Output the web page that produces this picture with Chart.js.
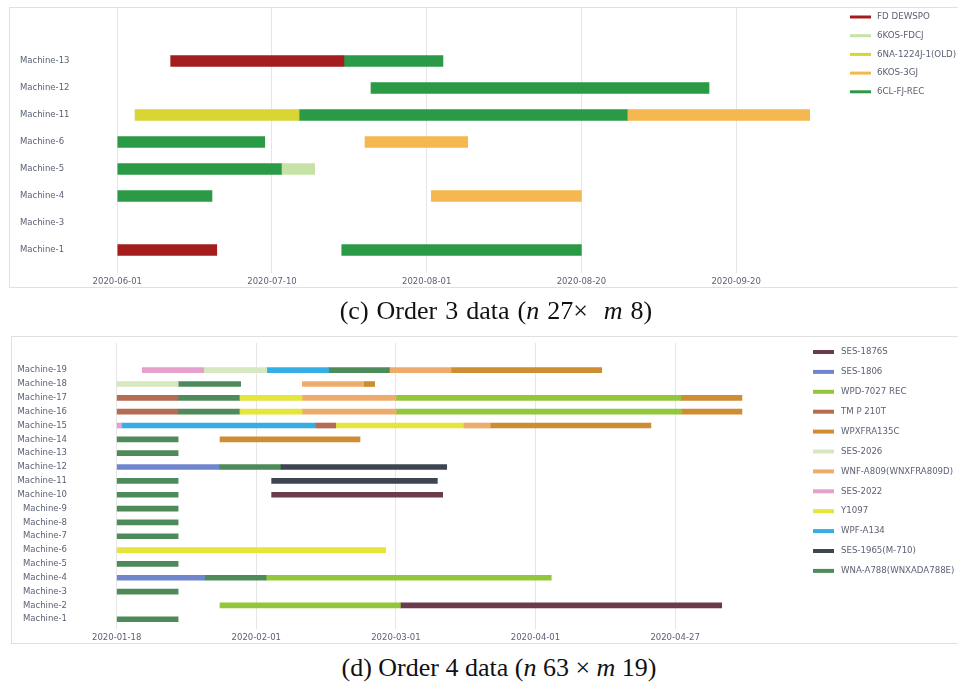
<!DOCTYPE html>
<html>
<head>
<meta charset="utf-8">
<script src="https://cdn.jsdelivr.net/npm/chart.js@4.4.1/dist/chart.umd.min.js"></script>
<style>
  html, body { margin: 0; padding: 0; background: #fff; width: 958px; height: 684px; overflow: hidden; position: relative; }
  .panel { position: absolute; border: 1px solid #e0e0e0; border-right: none; box-sizing: border-box; }
  canvas { position: absolute; left: 0; }
  .cap { position: absolute; width: 958px; text-align: center; white-space: nowrap;
         font-family: "Liberation Serif", "Times New Roman", serif; font-size: 26px; line-height: 30px; color: #111; }
</style>
</head>
<body>
<div class="panel" style="left:9px; top:7px; width:960px; height:281px;"></div>
<div class="panel" style="left:11px; top:336px; width:960px; height:308px;"></div>
<canvas id="order3" width="958" height="300" style="top:0;"></canvas>
<canvas id="order4" width="958" height="320" style="top:330px;"></canvas>
<div class="cap" style="top:296px; left:17px; word-spacing:1.5px;">(c) Order 3 data (<i>n</i> 27×&nbsp; <i>m</i> 8)</div>
<div class="cap" style="top:653px; left:20px;">(d) Order 4 data (<i>n</i> 63 × <i>m</i> 19)</div>

<script>
// ---------- Order 3 ----------
const machines3 = ['Machine-1', 'Machine-3', 'Machine-4', 'Machine-5', 'Machine-6', 'Machine-11', 'Machine-12', 'Machine-13'];
const dateTicks3 = ['2020-06-01', '2020-07-10', '2020-08-01', '2020-08-20', '2020-09-20'];
const products3 = ['FD DEWSPO', '6KOS-FDCJ', '6NA-1224J-1(OLD)', '6KOS-3GJ', '6CL-FJ-REC'];
// jobs per product: [machine, start, end], times measured in date-tick intervals
const jobsFdDewspo = [['Machine-13', 0.345, 1.465], ['Machine-1', 0, 0.643]];
const jobs6kosFdcj = [['Machine-5', 1.065, 1.276]];
const jobs6na1224j = [['Machine-11', 0.115, 1.175]];
const jobs6kos3gj = [['Machine-11', 3.30, 4.476], ['Machine-6', 1.601, 2.265], ['Machine-4', 2.03, 3]];
const jobs6clFjRec = [['Machine-13', 1.465, 2.105], ['Machine-12', 1.64, 3.825], ['Machine-11', 1.175, 3.30],
                      ['Machine-6', 0, 0.953], ['Machine-5', 0, 1.065], ['Machine-4', 0, 0.612], ['Machine-1', 1.451, 3]];
const jobs3 = [jobsFdDewspo, jobs6kosFdcj, jobs6na1224j, jobs6kos3gj, jobs6clFjRec];
const colors3 = ['#a31d1d', '#c6e2a6', '#d7d434', '#f5b74f', '#2b9a47'];

// ---------- Order 4 ----------
const machines4 = ['Machine-1', 'Machine-2', 'Machine-3', 'Machine-4', 'Machine-5', 'Machine-6', 'Machine-7', 'Machine-8',
                   'Machine-9', 'Machine-10', 'Machine-11', 'Machine-12', 'Machine-13', 'Machine-14', 'Machine-15',
                   'Machine-16', 'Machine-17', 'Machine-18', 'Machine-19'];
const dateTicks4 = ['2020-01-18', '2020-02-01', '2020-03-01', '2020-04-01', '2020-04-27'];
const products4 = ['SES-1876S', 'SES-1806', 'WPD-7027 REC', 'TM P 210T', 'WPXFRA135C', 'SES-2026',
                   'WNF-A809(WNXFRA809D)', 'SES-2022', 'Y1097', 'WPF-A134', 'SES-1965(M-710)', 'WNA-A788(WNXADA788E)'];
const jobsSes1876s = [['Machine-10', 1.110, 2.335], ['Machine-2', 2.037, 4.334]];
const jobsSes1806 = [['Machine-12', 0, 0.733], ['Machine-4', 0, 0.630]];
const jobsWpd7027 = [['Machine-17', 2.006, 4.042], ['Machine-16', 2.006, 4.047], ['Machine-4', 1.075, 3.113], ['Machine-2', 0.740, 2.037]];
const jobsTmp210t = [['Machine-17', 0, 0.439], ['Machine-16', 0, 0.439], ['Machine-15', 1.428, 1.569]];
const jobsWpxfra135c = [['Machine-19', 2.40, 3.474], ['Machine-18', 1.774, 1.848], ['Machine-17', 4.042, 4.479],
                        ['Machine-16', 4.047, 4.479], ['Machine-15', 2.681, 3.827], ['Machine-14', 0.740, 1.743]];
const jobsSes2026 = [['Machine-19', 0.628, 1.075], ['Machine-18', 0, 0.441]];
const jobsWnfA809 = [['Machine-19', 1.958, 2.40], ['Machine-18', 1.330, 1.774], ['Machine-17', 1.332, 2.006],
                     ['Machine-16', 1.332, 2.006], ['Machine-15', 2.488, 2.681]];
const jobsSes2022 = [['Machine-19', 0.183, 0.628], ['Machine-15', 0, 0.036]];
const jobsY1097 = [['Machine-17', 0.883, 1.332], ['Machine-16', 0.883, 1.332], ['Machine-15', 1.569, 2.488], ['Machine-6', 0, 1.927]];
const jobsWpfA134 = [['Machine-19', 1.075, 1.519], ['Machine-15', 0.036, 1.428]];
const jobsSes1965 = [['Machine-12', 1.177, 2.364], ['Machine-11', 1.110, 2.297]];
const jobsWnaA788 = [['Machine-19', 1.519, 1.958], ['Machine-18', 0.441, 0.888], ['Machine-17', 0.439, 0.883],
                     ['Machine-16', 0.439, 0.883], ['Machine-14', 0, 0.44], ['Machine-13', 0, 0.44],
                     ['Machine-12', 0.733, 1.177], ['Machine-11', 0, 0.44], ['Machine-10', 0, 0.44],
                     ['Machine-9', 0, 0.44], ['Machine-8', 0, 0.44], ['Machine-7', 0, 0.44], ['Machine-5', 0, 0.44],
                     ['Machine-4', 0.630, 1.075], ['Machine-3', 0, 0.44], ['Machine-1', 0, 0.44]];
const jobs4 = [jobsSes1876s, jobsSes1806, jobsWpd7027, jobsTmp210t, jobsWpxfra135c, jobsSes2026,
               jobsWnfA809, jobsSes2022, jobsY1097, jobsWpfA134, jobsSes1965, jobsWnaA788];
const colors4 = ['#6b3a4c', '#6f86cf', '#93c73b', '#b66b53', '#cf8d33', '#d6e8c0',
                 '#eeac6c', '#e6a0cc', '#e5e53a', '#35aee6', '#3d4551', '#4e8b5a'];

const FONT = '"DejaVu Sans", Verdana, sans-serif';
const TEXT = '#5c6275';

// Legend drawn as short coloured strokes next to each product name
const lineLegend = {
  id: 'lineLegend',
  afterDraw(chart, args, o) {
    const ctx = chart.ctx;
    ctx.save();
    ctx.font = o.size + 'px ' + FONT;
    ctx.textBaseline = 'middle';
    ctx.textAlign = 'left';
    chart.data.datasets.forEach((ds, i) => {
      const y = o.y + i * o.step;
      ctx.strokeStyle = ds.backgroundColor;
      ctx.lineWidth = o.lineWidth;
      ctx.beginPath();
      ctx.moveTo(o.x, y);
      ctx.lineTo(o.x + o.len, y);
      ctx.stroke();
      ctx.fillStyle = TEXT;
      ctx.fillText(ds.label, o.x + o.len + o.gap, y);
    });
    ctx.restore();
  }
};

function gantt(canvasId, s) {
  const datasets = s.products.map((name, i) => ({
    label: name,
    data: s.jobs[i].map(([m, a, b]) => ({ x: [a, b], y: s.machines.indexOf(m) })),
    backgroundColor: s.colors[i],
    borderWidth: 0,
    barThickness: s.bar,
    grouped: false
  }));
  return new Chart(document.getElementById(canvasId), {
    type: 'bar',
    data: { datasets },
    plugins: [lineLegend],
    options: {
      indexAxis: 'y',
      responsive: false,
      animation: false,
      devicePixelRatio: 1,
      layout: { padding: s.pad },
      plugins: { legend: { display: false }, tooltip: { enabled: false }, lineLegend: s.legend },
      scales: {
        x: {
          type: 'linear', bounds: 'data', min: s.xMin, max: s.xMax, offset: false,
          afterBuildTicks: sc => { sc.ticks = s.ticks.map((_, i) => ({ value: i })); },
          afterFit: sc => { sc.height = s.xAxisH; },
          ticks: { callback: v => s.ticks[v], color: TEXT, font: { family: FONT, size: 8.5 }, padding: 4,
                   maxRotation: 0, autoSkip: false },
          grid: { color: '#e6e6e6', drawTicks: false, offset: false },
          border: { display: false }
        },
        y: {
          type: 'linear', bounds: 'data', min: s.yMin, max: s.yMax, offset: false,
          afterBuildTicks: sc => { sc.ticks = s.machines.map((_, i) => ({ value: i })); },
          afterFit: sc => { sc.width = s.yAxisW; },
          ticks: { callback: v => s.machines[v], color: TEXT, font: { family: FONT, size: 8.5 },
                   crossAlign: s.crossAlign, padding: 0, autoSkip: false },
          // hidden grid; the tick length only sets the gap between labels and plot
          grid: { display: false, drawTicks: true, tickLength: s.labelGap, offset: false },
          border: { display: false }
        }
      }
    }
  });
}

gantt('order3', {
  machines: machines3, ticks: dateTicks3, products: products3, jobs: jobs3, colors: colors3,
  bar: 11, xMin: -0.1118, xMax: 4.607, yMin: -0.852, yMax: 8.963,
  pad: { left: 20, right: 128, top: 8, bottom: 0 }, yAxisW: 80, xAxisH: 27,
  crossAlign: 'far', labelGap: 0,
  legend: { x: 850, y: 17, step: 18.7, len: 21, gap: 6, lineWidth: 3, size: 8.7 }
});

gantt('order4', {
  machines: machines4, ticks: dateTicks4, products: products4, jobs: jobs4, colors: colors4,
  bar: 5, xMin: -0.1196, xMax: 4.859, yMin: -0.706, yMax: 19.965,
  pad: { left: 10, right: 163, top: 13, bottom: 0 }, yAxisW: 90, xAxisH: 21,
  crossAlign: 'near', labelGap: 33,
  legend: { x: 813, y: 22, step: 19.9, len: 21, gap: 7, lineWidth: 4, size: 8.6 }
});
</script>
</body>
</html>
